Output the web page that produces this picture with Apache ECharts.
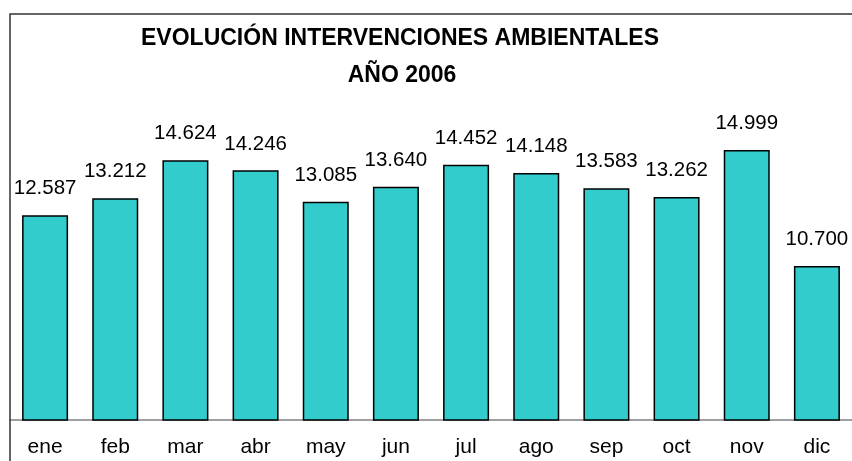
<!DOCTYPE html>
<html lang="es">

<head>
    <meta charset="utf-8">
    <style type="text/css">
    body {
        margin: 0;
        background-color: #fff
    }

    #echarts {
        width: 852px;
        height: 461px;
    }
    </style>
</head>

<body>
    <div id="echarts"></div>
    <script type="text/javascript" src="https://cdn.jsdelivr.net/npm/echarts@6/dist/echarts.min.js"></script>
    <script type="text/javascript">
    var meses = ['ene', 'feb', 'mar', 'abr', 'may', 'jun', 'jul', 'ago', 'sep', 'oct', 'nov', 'dic'];
    var intervenciones = [12587, 13212, 14624, 14246, 13085, 13640, 14452, 14148, 13583, 13262, 14999, 10700];
    var titulo = ['EVOLUCIÓN INTERVENCIONES AMBIENTALES', 'AÑO 2006'];

    var myEcharts = echarts.init(document.getElementById('echarts'));

    /*miles con punto*/
    function miles(v) {
        return String(v).replace(/\B(?=(\d{3})+(?!\d))/g, '.');
    }

    var fuente = '"Liberation Sans", Arial, sans-serif';

    var option = {
        animation: false,
        textStyle: {
            fontFamily: fuente
        },
        graphic: [{
            type: 'rect',
            shape: { x: 10, y: 14, width: 900, height: 500 },
            style: { fill: null, stroke: '#333', lineWidth: 1.5 },
            z: 10
        }, {
            type: 'text',
            x: 400,
            y: 27,
            style: {
                text: titulo[0],
                fill: '#000',
                font: 'bold 23px ' + fuente,
                textAlign: 'center'
            }
        }, {
            type: 'text',
            x: 402,
            y: 64,
            style: {
                text: titulo[1],
                fill: '#000',
                font: 'bold 23px ' + fuente,
                textAlign: 'center'
            }
        }],
        grid: {
            left: 10,
            top: 15,
            width: 846,
            height: 405
        },
        xAxis: {
            type: 'category',
            data: meses,
            axisLine: { lineStyle: { color: '#808080', width: 1.5 } },
            axisTick: { show: false },
            axisLabel: {
                color: '#000',
                fontSize: 21,
                margin: 17
            }
        },
        yAxis: {
            type: 'value',
            min: 5000,
            max: 20000,
            show: false,
            splitLine: { show: false }
        },
        series: [{
            type: 'bar',
            data: intervenciones,
            barWidth: 46,
            itemStyle: {
                color: '#33CCCC',
                borderColor: '#000',
                borderWidth: 1.5
            },
            label: {
                show: true,
                position: 'top',
                distance: 16,
                color: '#000',
                fontSize: 20.5,
                formatter: function(p) {
                    return miles(p.value);
                }
            }
        }]
    };
    myEcharts.setOption(option);
    </script>
</body>

</html>
